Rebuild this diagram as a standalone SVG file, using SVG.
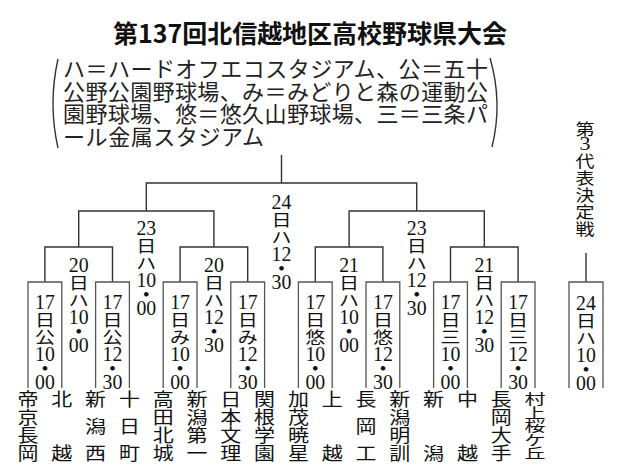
<svg xmlns="http://www.w3.org/2000/svg" width="619" height="467" viewBox="0 0 619 467">
<style>
.ln{stroke:#333;stroke-width:1.4;fill:none}
.bx{stroke:#555;stroke-width:1.3;fill:none}
text{fill:#111}
.d{font-family:"Liberation Serif","Times New Roman",serif;font-size:22px;text-anchor:middle;dominant-baseline:central}
.k{font-family:"Noto Sans CJK JP","Noto Sans CJK SC",sans-serif;font-size:20px;text-anchor:middle;dominant-baseline:central}
.p{font-family:"Noto Sans CJK JP","Noto Sans CJK SC",sans-serif;font-size:18px;font-weight:700;text-anchor:middle;dominant-baseline:central}
.t{font-family:"Noto Sans CJK JP","Noto Sans CJK SC",sans-serif;font-size:21px;text-anchor:middle;dominant-baseline:central}
.c{font-family:"Noto Sans CJK JP","Noto Sans CJK SC",sans-serif;font-size:19px;text-anchor:middle;dominant-baseline:central}
.lg{font-family:"Noto Sans CJK JP","Noto Sans CJK SC",sans-serif;font-size:22px;dominant-baseline:central;fill:#222}
.ti{font-family:"Noto Sans CJK JP","Noto Sans CJK SC",sans-serif;font-size:25px;font-weight:700;dominant-baseline:central}
</style>
<defs>
<g id="lb-10-00"><text class="d" transform="translate(0,51.5) scale(0.9,1)">10</text><text class="p" y="65">・</text><text class="d" transform="translate(0,79.5) scale(0.9,1)">00</text></g>
<g id="lb-12-30"><text class="d" transform="translate(0,51.5) scale(0.9,1)">12</text><text class="p" y="65">・</text><text class="d" transform="translate(0,79.5) scale(0.9,1)">30</text></g>
</defs>
<rect width="619" height="467" fill="#fff"/>
<g id="title"><text class="ti" x="113" y="32" textLength="394" lengthAdjust="spacing">第137回北信越地区高校野球県大会</text></g>
<g id="legend">
<path class="ln" d="M58 59 Q48 103.5 58 148" stroke-width="1.2"/>
<path class="ln" d="M490 58 Q503 102.5 492 147" stroke-width="1.2"/>
<text class="lg" x="63" y="67" textLength="425" lengthAdjust="spacing">ハ＝ハードオフエコスタジアム、公＝五十</text>
<text class="lg" x="63" y="90" textLength="425" lengthAdjust="spacing">公野公園野球場、み＝みどりと森の運動公</text>
<text class="lg" x="63" y="112" textLength="425" lengthAdjust="spacing">園野球場、悠＝悠久山野球場、三＝三条パ</text>
<text class="lg" x="63" y="135" textLength="201" lengthAdjust="spacing">ール金属スタジアム</text>
</g>
<g id="connectors">
<path class="ln" d="M44.9 282V247H112.5V282"/>
<path class="ln" d="M180.1 282V247H247.7V282"/>
<path class="ln" d="M315.3 282V247H382.9V282"/>
<path class="ln" d="M450.5 282V247H518.1V282"/>
<path class="ln" d="M78.7 247V211H213.9V247"/>
<path class="ln" d="M349.1 247V211H484.3V247"/>
<path class="ln" d="M146.3 211V183H416.7V211"/>
<path class="ln" d="M281.5 183V155"/>
<path class="ln" d="M586 253V282"/>
</g>
<g id="m1"><path class="bx" d="M28 388V282H61.8V388"/><g transform="translate(44.9,302)"><text class="d" transform="scale(0.9,1)">17</text><text class="k" transform="translate(0,16.5) scale(1,0.8)">日</text><text class="k" transform="translate(0,34) scale(1,0.8)">公</text><use href="#lb-10-00"/></g></g>
<g id="m2"><path class="bx" d="M95.6 388V282H129.4V388"/><g transform="translate(112.5,302)"><text class="d" transform="scale(0.9,1)">17</text><text class="k" transform="translate(0,16.5) scale(1,0.8)">日</text><text class="k" transform="translate(0,34) scale(1,0.8)">公</text><use href="#lb-12-30"/></g></g>
<g id="m3"><path class="bx" d="M163.2 388V282H197V388"/><g transform="translate(180.1,302)"><text class="d" transform="scale(0.9,1)">17</text><text class="k" transform="translate(0,16.5) scale(1,0.8)">日</text><text class="k" transform="translate(0,34) scale(1,0.8)">み</text><use href="#lb-10-00"/></g></g>
<g id="m4"><path class="bx" d="M230.8 388V282H264.6V388"/><g transform="translate(247.7,302)"><text class="d" transform="scale(0.9,1)">17</text><text class="k" transform="translate(0,16.5) scale(1,0.8)">日</text><text class="k" transform="translate(0,34) scale(1,0.8)">み</text><use href="#lb-12-30"/></g></g>
<g id="m5"><path class="bx" d="M298.4 388V282H332.2V388"/><g transform="translate(315.3,302)"><text class="d" transform="scale(0.9,1)">17</text><text class="k" transform="translate(0,16.5) scale(1,0.8)">日</text><text class="k" transform="translate(0,34) scale(1,0.8)">悠</text><use href="#lb-10-00"/></g></g>
<g id="m6"><path class="bx" d="M366 388V282H399.8V388"/><g transform="translate(382.9,302)"><text class="d" transform="scale(0.9,1)">17</text><text class="k" transform="translate(0,16.5) scale(1,0.8)">日</text><text class="k" transform="translate(0,34) scale(1,0.8)">悠</text><use href="#lb-12-30"/></g></g>
<g id="m7"><path class="bx" d="M433.6 388V282H467.4V388"/><g transform="translate(450.5,302)"><text class="d" transform="scale(0.9,1)">17</text><text class="k" transform="translate(0,16.5) scale(1,0.8)">日</text><text class="k" transform="translate(0,34) scale(1,0.8)">三</text><use href="#lb-10-00"/></g></g>
<g id="m8"><path class="bx" d="M501.2 388V282H535V388"/><g transform="translate(518.1,302)"><text class="d" transform="scale(0.9,1)">17</text><text class="k" transform="translate(0,16.5) scale(1,0.8)">日</text><text class="k" transform="translate(0,34) scale(1,0.8)">三</text><use href="#lb-12-30"/></g></g>
<g id="m9" transform="translate(78.7,265)"><text class="d" transform="scale(0.9,1)">20</text><text class="k" transform="translate(0,16.5) scale(1,0.8)">日</text><text class="k" transform="translate(0,34) scale(1,0.8)">ハ</text><use href="#lb-10-00"/></g>
<g id="m10" transform="translate(213.9,265)"><text class="d" transform="scale(0.9,1)">20</text><text class="k" transform="translate(0,16.5) scale(1,0.8)">日</text><text class="k" transform="translate(0,34) scale(1,0.8)">ハ</text><use href="#lb-12-30"/></g>
<g id="m11" transform="translate(349.1,265)"><text class="d" transform="scale(0.9,1)">21</text><text class="k" transform="translate(0,16.5) scale(1,0.8)">日</text><text class="k" transform="translate(0,34) scale(1,0.8)">ハ</text><use href="#lb-10-00"/></g>
<g id="m12" transform="translate(484.3,265)"><text class="d" transform="scale(0.9,1)">21</text><text class="k" transform="translate(0,16.5) scale(1,0.8)">日</text><text class="k" transform="translate(0,34) scale(1,0.8)">ハ</text><use href="#lb-12-30"/></g>
<g id="m13" transform="translate(146.3,228)"><text class="d" transform="scale(0.9,1)">23</text><text class="k" transform="translate(0,16.5) scale(1,0.8)">日</text><text class="k" transform="translate(0,34) scale(1,0.8)">ハ</text><use href="#lb-10-00"/></g>
<g id="m14" transform="translate(416.7,228)"><text class="d" transform="scale(0.9,1)">23</text><text class="k" transform="translate(0,16.5) scale(1,0.8)">日</text><text class="k" transform="translate(0,34) scale(1,0.8)">ハ</text><use href="#lb-12-30"/></g>
<g id="final" transform="translate(281.5,202)"><text class="d" transform="scale(0.9,1)">24</text><text class="k" transform="translate(0,16.5) scale(1,0.8)">日</text><text class="k" transform="translate(0,34) scale(1,0.8)">ハ</text><use href="#lb-12-30"/></g>
<g id="third-rep-title"><text class="c" transform="translate(585,128) scale(1,0.85)">第</text><text class="d" transform="translate(585,143) scale(1,0.9)">3</text><text class="c" transform="translate(585,160) scale(1,0.85)">代</text><text class="c" transform="translate(585,177) scale(1,0.85)">表</text><text class="c" transform="translate(585,194) scale(1,0.85)">決</text><text class="c" transform="translate(585,211) scale(1,0.85)">定</text><text class="c" transform="translate(585,228) scale(1,0.85)">戦</text></g>
<g id="third-rep-match"><path class="bx" d="M569 388V282H603V388"/><g transform="translate(586,303)"><text class="d" transform="scale(0.9,1)">24</text><text class="k" transform="translate(0,16.5) scale(1,0.8)">日</text><text class="k" transform="translate(0,34) scale(1,0.8)">ハ</text><use href="#lb-10-00"/></g></g>
<g id="team0"><text class="t" transform="translate(28,398) scale(1,0.85)">帝</text><text class="t" transform="translate(28,416) scale(1,0.85)">京</text><text class="t" transform="translate(28,434) scale(1,0.85)">長</text><text class="t" transform="translate(28,452) scale(1,0.85)">岡</text></g>
<g id="team1"><text class="t" transform="translate(61.8,398) scale(1,0.85)">北</text><text class="t" transform="translate(61.8,452) scale(1,0.85)">越</text></g>
<g id="team2"><text class="t" transform="translate(95.6,398) scale(1,0.85)">新</text><text class="t" transform="translate(95.6,425) scale(1,0.85)">潟</text><text class="t" transform="translate(95.6,452) scale(1,0.85)">西</text></g>
<g id="team3"><text class="t" transform="translate(129.4,398) scale(1,0.85)">十</text><text class="t" transform="translate(129.4,425) scale(1,0.85)">日</text><text class="t" transform="translate(129.4,452) scale(1,0.85)">町</text></g>
<g id="team4"><text class="t" transform="translate(163.2,398) scale(1,0.85)">高</text><text class="t" transform="translate(163.2,416) scale(1,0.85)">田</text><text class="t" transform="translate(163.2,434) scale(1,0.85)">北</text><text class="t" transform="translate(163.2,452) scale(1,0.85)">城</text></g>
<g id="team5"><text class="t" transform="translate(197,398) scale(1,0.85)">新</text><text class="t" transform="translate(197,416) scale(1,0.85)">潟</text><text class="t" transform="translate(197,434) scale(1,0.85)">第</text><text class="t" transform="translate(197,452) scale(1,0.85)">一</text></g>
<g id="team6"><text class="t" transform="translate(230.8,398) scale(1,0.85)">日</text><text class="t" transform="translate(230.8,416) scale(1,0.85)">本</text><text class="t" transform="translate(230.8,434) scale(1,0.85)">文</text><text class="t" transform="translate(230.8,452) scale(1,0.85)">理</text></g>
<g id="team7"><text class="t" transform="translate(264.6,398) scale(1,0.85)">関</text><text class="t" transform="translate(264.6,416) scale(1,0.85)">根</text><text class="t" transform="translate(264.6,434) scale(1,0.85)">学</text><text class="t" transform="translate(264.6,452) scale(1,0.85)">園</text></g>
<g id="team8"><text class="t" transform="translate(298.4,398) scale(1,0.85)">加</text><text class="t" transform="translate(298.4,416) scale(1,0.85)">茂</text><text class="t" transform="translate(298.4,434) scale(1,0.85)">暁</text><text class="t" transform="translate(298.4,452) scale(1,0.85)">星</text></g>
<g id="team9"><text class="t" transform="translate(332.2,398) scale(1,0.85)">上</text><text class="t" transform="translate(332.2,452) scale(1,0.85)">越</text></g>
<g id="team10"><text class="t" transform="translate(366,398) scale(1,0.85)">長</text><text class="t" transform="translate(366,425) scale(1,0.85)">岡</text><text class="t" transform="translate(366,452) scale(1,0.85)">工</text></g>
<g id="team11"><text class="t" transform="translate(399.8,398) scale(1,0.85)">新</text><text class="t" transform="translate(399.8,416) scale(1,0.85)">潟</text><text class="t" transform="translate(399.8,434) scale(1,0.85)">明</text><text class="t" transform="translate(399.8,452) scale(1,0.85)">訓</text></g>
<g id="team12"><text class="t" transform="translate(433.6,398) scale(1,0.85)">新</text><text class="t" transform="translate(433.6,452) scale(1,0.85)">潟</text></g>
<g id="team13"><text class="t" transform="translate(467.4,398) scale(1,0.85)">中</text><text class="t" transform="translate(467.4,452) scale(1,0.85)">越</text></g>
<g id="team14"><text class="t" transform="translate(501.2,398) scale(1,0.85)">長</text><text class="t" transform="translate(501.2,416) scale(1,0.85)">岡</text><text class="t" transform="translate(501.2,434) scale(1,0.85)">大</text><text class="t" transform="translate(501.2,452) scale(1,0.85)">手</text></g>
<g id="team15"><text class="t" transform="translate(535,398) scale(1,0.66)">村</text><text class="t" transform="translate(535,411.5) scale(1,0.66)">上</text><text class="t" transform="translate(535,425) scale(1,0.66)">桜</text><text class="t" transform="translate(535,438.5) scale(1,0.66)">ケ</text><text class="t" transform="translate(535,452) scale(1,0.66)">丘</text></g>
</svg>
